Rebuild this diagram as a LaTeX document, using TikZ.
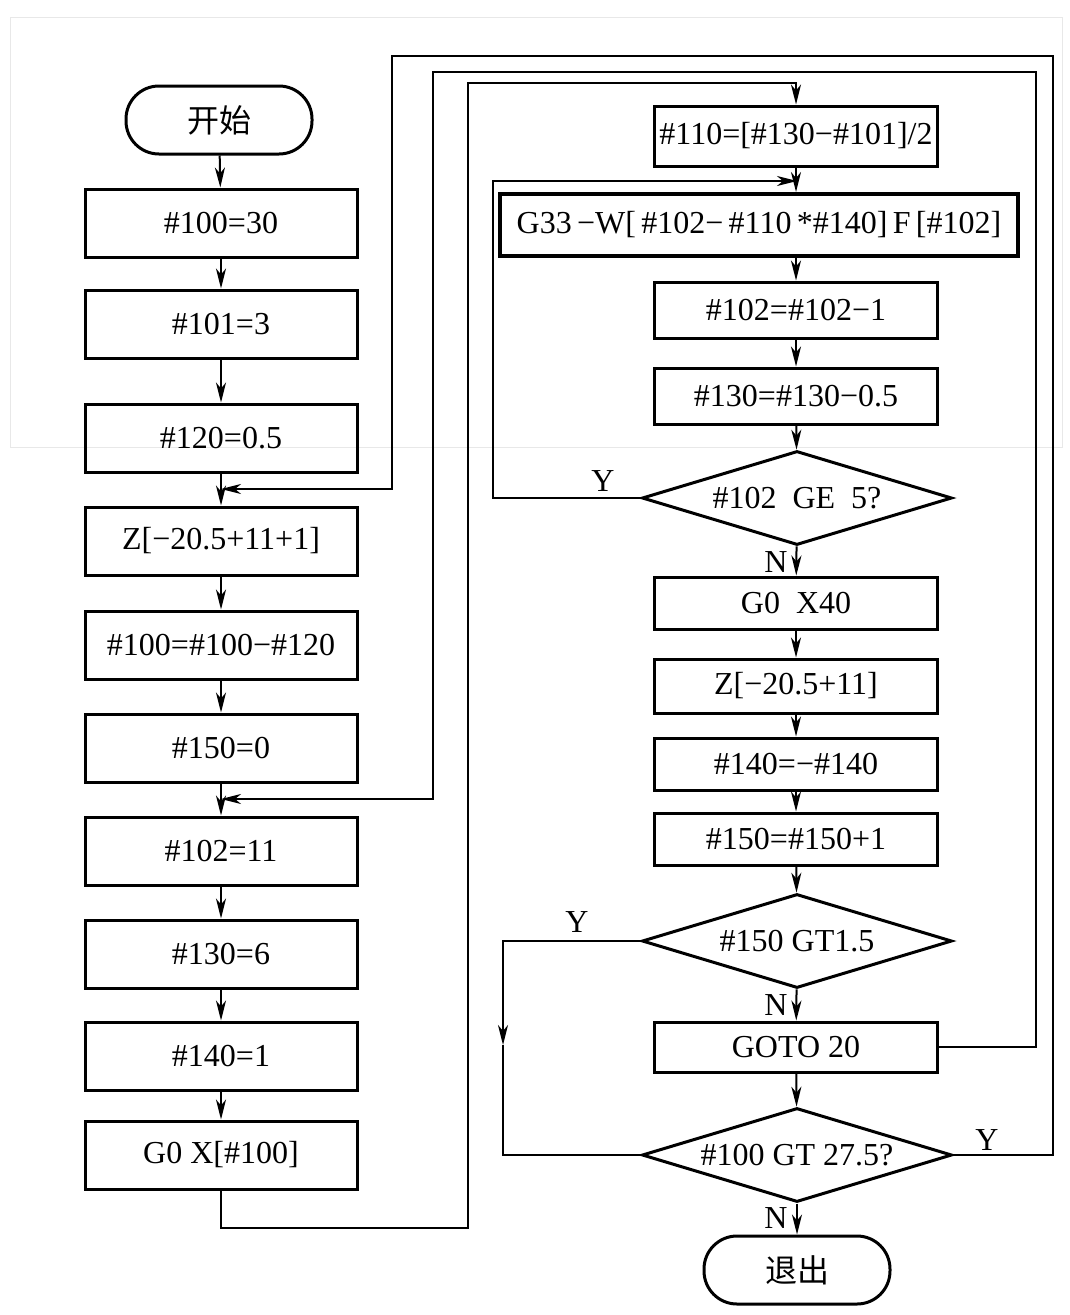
\documentclass[tikz,border=0pt]{standalone}
\usepackage{fontspec}
\setmainfont{Liberation Serif}
\newfontfamily\cjk{Noto Sans CJK SC}
\usetikzlibrary{shapes.geometric,arrows.meta}
\newcommand\fsz{\fontsize{32}{36}\selectfont}
\begin{document}
\begin{tikzpicture}[x=1pt,y=-1pt,
  box/.style={draw, line width=3pt, minimum width=272pt, minimum height=68pt, inner sep=0pt, font=\fsz},
  rbox/.style={box, minimum width=283pt, minimum height=54pt},
  term/.style={draw, line width=3pt, rounded corners=33pt, minimum width=186pt, minimum height=68pt, inner sep=0pt, font=\fsz\cjk},
  dia/.style={draw, diamond, aspect=3.3, line width=3pt, minimum width=310pt, minimum height=94pt, inner sep=0pt, font=\fsz},
  conn/.style={line width=2pt},
  arr/.style={conn, -{Stealth[length=20pt,width=10pt,inset=6pt]}},
  lbl/.style={font=\fsz, inner sep=0pt}
]
\useasboundingbox (0,0) rectangle (1069,1315);
\draw[gray!18, line width=1pt] (10,17) rectangle (1062,447);

% left column
\node[term] (start) at (219,120) {开始};
\node[box] (s100) at (221,223) {\#100=30};
\node[box] (s101) at (221,324) {\#101=3};
\node[box] (s120) at (221,438) {\#120=0.5};
\node[box] (sz) at (221,541) {Z[−20.5+11+1]};
\node[box] (s100b) at (221,645) {\#100=\#100−\#120};
\node[box] (s150) at (221,748) {\#150=0};
\node[box] (s102) at (221,851) {\#102=11};
\node[box] (s130) at (221,954) {\#130=6};
\node[box] (s140) at (221,1056) {\#140=1};
\node[box] (sg0) at (221,1155) {G0 X[\#100]};

% right column
\node[rbox, minimum height=60pt] (r110) at (796,136) {\#110=[\#130−\#101]/2};
\node[box, line width=4pt, minimum width=518pt, minimum height=62pt] (rg33) at (759,225) {G33\,−W[\,\#102−\,\#110\,*\#140]\,F\,[\#102]};
\node[rbox, minimum height=56pt] (r102) at (796,310) {\#102=\#102−1};
\node[rbox, minimum height=56pt] (r130) at (796,396) {\#130=\#130−0.5};
\node[dia] (d1) at (797,498) {\#102\ \ GE\ \ 5?};
\node[rbox, minimum height=52pt] (rg0) at (796,603) {G0\ \ X40};
\node[rbox, minimum height=54pt] (rz) at (796,686) {Z[−20.5+11]};
\node[rbox, minimum height=52pt] (r140) at (796,764) {\#140=−\#140};
\node[rbox, minimum height=52pt] (r150) at (796,839) {\#150=\#150+1};
\node[dia] (d2) at (797,941) {\#150 GT1.5};
\node[rbox, minimum height=50pt] (rgoto) at (796,1047) {GOTO 20};
\node[dia] (d3) at (797,1155) {\#100 GT 27.5?};
\node[term] (exit) at (797,1270) {退出};

% labels
\node[lbl] (y1) at (603,481) {Y};
\node[lbl] (n1) at (776,562) {N};
\node[lbl] (y2) at (577,922) {Y};
\node[lbl] (n2) at (776,1005) {N};
\node[lbl] (y3) at (987,1140) {Y};
\node[lbl] (n3) at (776,1218) {N};

% coordinates
\coordinate (j1) at (221,489);
\coordinate (j2) at (221,799);
\coordinate (j4) at (797,181);
\coordinate (c1a) at (1053,56);
\coordinate (c1b) at (392,56);
\coordinate (c2a) at (1036,72);
\coordinate (c2b) at (433,72);
\coordinate (c3a) at (468,1228);
\coordinate (c3b) at (468,83);
\coordinate (c4a) at (493,181);
\coordinate (m5) at (503,1045);

% left arrows
\draw[arr] (start) -- (s100);
\draw[arr] (s100) -- (s101);
\draw[arr] (s101) -- (s120);
\draw[arr] (s120) -- (sz);
\draw[arr] (sz) -- (s100b);
\draw[arr] (s100b) -- (s150);
\draw[arr] (s150) -- (s102);
\draw[arr] (s102) -- (s130);
\draw[arr] (s130) -- (s140);
\draw[arr] (s140) -- (sg0);

% right arrows
\draw[arr] (r110.south) -- (r110.south |- rg33.north);
\draw[arr] (r110.south |- rg33.south) -- (r102.north);
\draw[arr] (r102) -- (r130);
\draw[arr] (r130) -- (d1);
\draw[arr] (d1) -- (rg0);
\draw[arr] (rg0) -- (rz);
\draw[arr] (rz) -- (r140);
\draw[arr] (r140) -- (r150);
\draw[arr] (r150) -- (d2);
\draw[arr] (d2) -- (rgoto);
\draw[arr] (rgoto) -- (d3);
\draw[arr] (d3) -- (exit);

% loops
\draw[arr] (d3.east) -| (c1a) -- (c1b) |- (j1);
\draw[arr] (rgoto.east) -| (c2a) -- (c2b) |- (j2);
\draw[arr] (sg0.south) |- (c3a) -- (c3b) -| (r110.north);
\draw[arr] (d1.west) -| (c4a) -- (j4);
\draw[arr] (d2.west) -| (m5);
\draw[conn] (m5) |- (d3.west);
\end{tikzpicture}
\end{document}
